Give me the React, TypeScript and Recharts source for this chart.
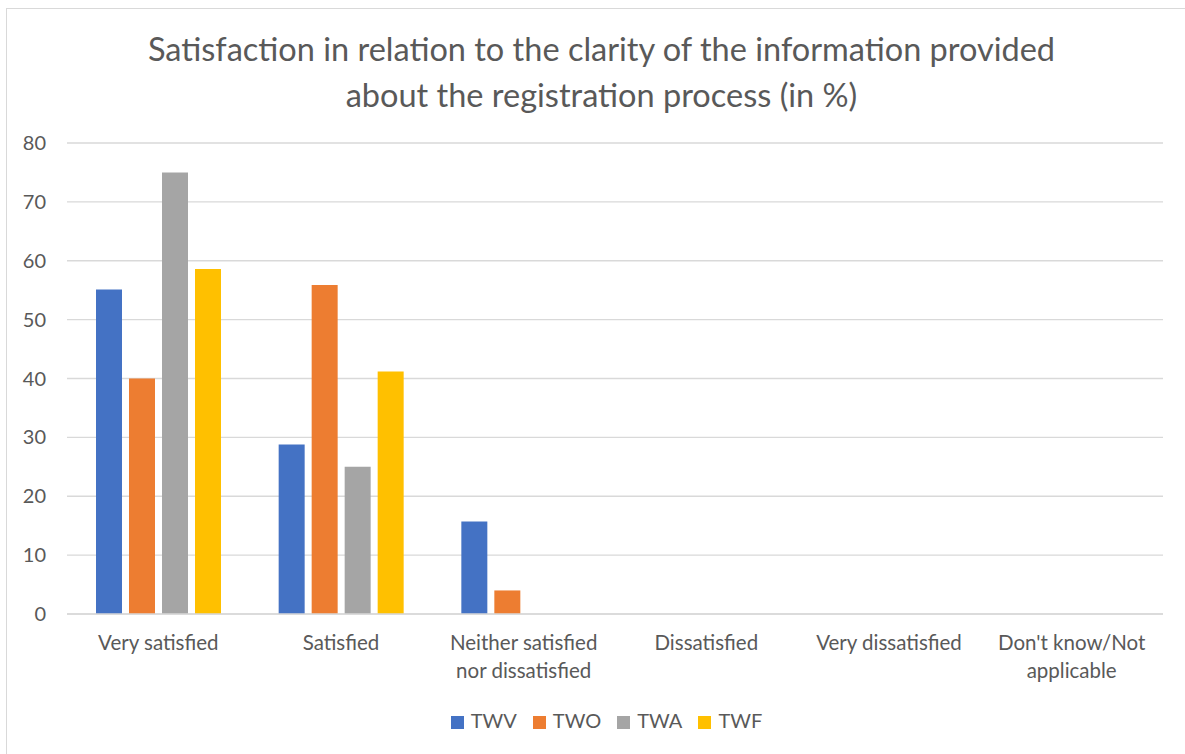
import { BarChart, Bar, XAxis, YAxis, CartesianGrid, Legend } from 'recharts';

const categories = [
  'Very satisfied',
  'Satisfied',
  'Neither satisfied\nnor dissatisfied',
  'Dissatisfied',
  'Very dissatisfied',
  "Don't know/Not\napplicable",
];
const twv = [55.1, 28.8, 15.7, 0, 0, 0];
const two = [40, 55.9, 4, 0, 0, 0];
const twa = [75, 25, 0, 0, 0, 0];
const twf = [58.6, 41.2, 0, 0, 0, 0];
const yTicks = [0, 10, 20, 30, 40, 50, 60, 70, 80];

const series = [
  { key: 'TWV', color: '#4472C4' },
  { key: 'TWO', color: '#ED7D31' },
  { key: 'TWA', color: '#A5A5A5' },
  { key: 'TWF', color: '#FFC000' },
];

const FONT = 'Lato, "Open Sans", sans-serif';
const TEXT = '#595959';
const GRID = '#D9D9D9';

const data = categories.map((name, i) => ({
  name,
  TWV: twv[i],
  TWO: two[i],
  TWA: twa[i],
  TWF: twf[i],
}));

function CategoryTick({ x, y, payload }: any) {
  const lines = String(payload.value).split('\n');
  return (
    <text x={x} y={y} textAnchor="middle" fill={TEXT} fontSize={20.5} fontFamily={FONT}>
      {lines.map((line, i) => (
        <tspan key={i} x={x} dy={i === 0 ? 36 : 28}>
          {line}
        </tspan>
      ))}
    </text>
  );
}

// keep legend in series order instead of alphabetical
const legendOrder = (item: any) => series.findIndex((s) => s.key === item.dataKey);

export default function App() {
  return (
    <div
      style={{
        position: 'fixed',
        left: 0,
        top: 0,
        width: 1185,
        height: 754,
        overflow: 'hidden',
        background: '#fff',
      }}
    >
      <div
        style={{
          position: 'absolute',
          left: 6,
          top: 8,
          width: 1200,
          height: 800,
          border: `1.5px solid ${GRID}`,
        }}
      />
      <div
        style={{
          position: 'absolute',
          left: 0,
          top: 26,
          width: 1203,
          textAlign: 'center',
          fontFamily: FONT,
          fontSize: 32.5,
          lineHeight: '46px',
          color: TEXT,
        }}
      >
        Satisfaction in relation to the clarity of the information provided
        <br />
        about the registration process (in %)
      </div>
      <div style={{ position: 'absolute', left: 0, top: 0 }}>
        <BarChart
          width={1202}
          height={754}
          data={data}
          margin={{ top: 143, right: 39, left: 0, bottom: 22 }}
          barSize={26}
          barGap={7}
        >
          <CartesianGrid vertical={false} stroke={GRID} strokeWidth={1.3} />
          <XAxis
            dataKey="name"
            interval={0}
            height={94}
            tickSize={0}
            tickMargin={0}
            axisLine={{ stroke: GRID, strokeWidth: 1.5 }}
            tickLine={false}
            tick={<CategoryTick />}
          />
          <YAxis
            domain={[0, 80]}
            ticks={yTicks}
            width={67}
            tickSize={0}
            tickMargin={21}
            axisLine={false}
            tickLine={false}
            tick={{ fill: TEXT, fontSize: 20, fontFamily: FONT }}
          />
          <Legend
            verticalAlign="bottom"
            align="center"
            iconType="square"
            iconSize={13}
            itemSorter={legendOrder}
            wrapperStyle={{ fontFamily: FONT, fontSize: 20, left: 33 }}
            formatter={(value: string) => (
              <span style={{ color: TEXT, marginLeft: 3, marginRight: 6 }}>{value}</span>
            )}
          />
          {series.map((s) => (
            <Bar key={s.key} dataKey={s.key} fill={s.color} isAnimationActive={false} />
          ))}
        </BarChart>
      </div>
    </div>
  );
}
